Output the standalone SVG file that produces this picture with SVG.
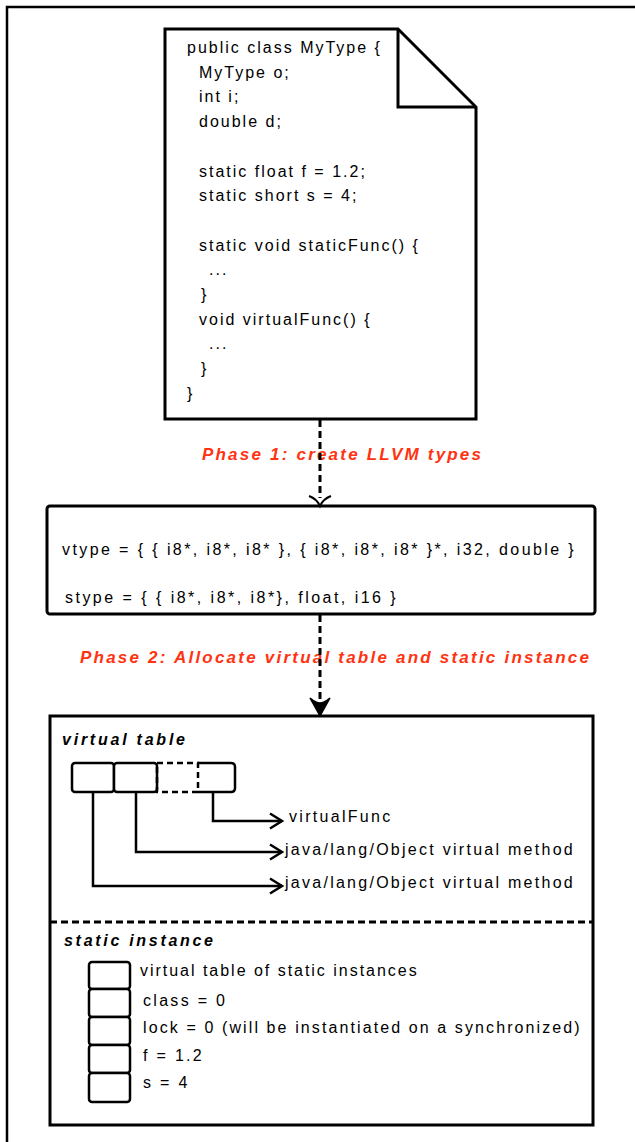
<svg xmlns="http://www.w3.org/2000/svg" width="635" height="1142" viewBox="0 0 635 1142">
<style>
.code{font-family:"Liberation Sans",Arial,sans-serif;font-size:16px;letter-spacing:2px;fill:#000}
.lbl{font-family:"Liberation Sans",Arial,sans-serif;font-size:16px;letter-spacing:2.3px;fill:#000}
.phase{font-family:"Liberation Sans",Arial,sans-serif;font-size:17px;font-weight:bold;font-style:italic;fill:#ff3311}
.title{font-family:"Liberation Sans",Arial,sans-serif;font-size:16px;font-weight:bold;font-style:italic;fill:#000}
.box{fill:#fff;stroke:#000;stroke-width:3}
.cell{fill:#fff;stroke:#000;stroke-width:2.5}
.dash{fill:none;stroke:#000;stroke-width:3;stroke-dasharray:7 4}
.line{fill:none;stroke:#000;stroke-width:2.5}
</style>
<defs>
<marker id="open" markerWidth="18" markerHeight="20" refX="14" refY="9" orient="auto" markerUnits="userSpaceOnUse">
<path d="M2,1.5 L14,9 L2,16.5" fill="none" stroke="#000" stroke-width="2.5"/>
</marker>
</defs>
<rect id="frame" x="7" y="7" width="700" height="1200" fill="none" stroke="#000" stroke-width="2.5"/>
<g id="source">
<path d="M165,29 H398 L476,107 V419 H165 Z" class="box"/>
<path d="M398,29 V107 H476" fill="none" stroke="#000" stroke-width="3"/>
<text class="code" x="187" y="53">public class MyType {</text>
<text class="code" x="199" y="77.7">MyType o;</text>
<text class="code" x="199" y="102.4">int i;</text>
<text class="code" x="199" y="127.1">double d;</text>
<text class="code" x="199" y="176.5">static float f = 1.2;</text>
<text class="code" x="199" y="201.2">static short s = 4;</text>
<text class="code" x="199" y="250.6">static void staticFunc() {</text>
<text class="code" x="209" y="275.3">...</text>
<text class="code" x="201" y="300">}</text>
<text class="code" x="199" y="324.7">void virtualFunc() {</text>
<text class="code" x="209" y="349.4">...</text>
<text class="code" x="201" y="374.1">}</text>
<text class="code" x="187" y="398.8">}</text>
</g>
<text id="phase1" class="phase" x="202" y="460" textLength="279" lengthAdjust="spacing">Phase 1: create LLVM types</text>
<g id="types">
<rect x="47" y="506" width="548" height="108" rx="3" class="box"/>
<text class="lbl" x="62" y="555" textLength="514" lengthAdjust="spacing">vtype = { { i8*, i8*, i8* }, { i8*, i8*, i8* }*, i32, double }</text>
<text class="lbl" x="65" y="603" textLength="333" lengthAdjust="spacing">stype = { { i8*, i8*, i8*}, float, i16 }</text>
</g>
<text id="phase2" class="phase" x="80" y="663" textLength="509" lengthAdjust="spacing">Phase 2: Allocate virtual table and static instance</text>
<g id="memory">
<rect x="50" y="716" width="543" height="409" fill="none" stroke="#000" stroke-width="3"/>
<line x1="50" y1="922" x2="593" y2="922" class="dash"/>
<text class="title" x="62" y="745" textLength="123" lengthAdjust="spacing">virtual table</text>
<text class="title" x="64" y="946" textLength="149" lengthAdjust="spacing">static instance</text>
</g>
<g id="vtable">
<rect x="72" y="763" width="42" height="29" rx="3" class="cell"/>
<rect x="114" y="763" width="43" height="29" rx="3" class="cell"/>
<rect x="157" y="763" width="41" height="29" fill="none" stroke="#000" stroke-width="2.5" stroke-dasharray="6 4"/>
<path d="M198,763 H231 Q235,763 235,767 V788 Q235,792 231,792 H198" class="line"/>
</g>
<g id="vtable-labels">
<text class="lbl" x="289" y="822">virtualFunc</text>
<text class="lbl" x="285" y="855" textLength="290" lengthAdjust="spacing">java/lang/Object virtual method</text>
<text class="lbl" x="285" y="888" textLength="290" lengthAdjust="spacing">java/lang/Object virtual method</text>
</g>
<g id="static">
<rect x="89" y="962" width="41" height="27" rx="3" class="cell"/>
<rect x="89" y="989" width="41" height="28" rx="3" class="cell"/>
<rect x="89" y="1017" width="41" height="28" rx="3" class="cell"/>
<rect x="89" y="1045" width="41" height="28" rx="3" class="cell"/>
<rect x="89" y="1073" width="41" height="29" rx="3" class="cell"/>
<text class="lbl" x="140" y="976" textLength="279" lengthAdjust="spacing">virtual table of static instances</text>
<text class="lbl" x="143" y="1006">class = 0</text>
<text class="lbl" x="143" y="1033" textLength="439" lengthAdjust="spacing">lock = 0 (will be instantiated on a synchronized)</text>
<text class="lbl" x="143" y="1061">f = 1.2</text>
<text class="lbl" x="143" y="1088">s = 4</text>
</g>
<g id="connectors">
<line x1="320" y1="420" x2="320" y2="498" class="dash"/>
<path d="M309,496 Q317,499 320,506 Q323,499 331,496" fill="none" stroke="#000" stroke-width="2"/>
<line x1="320" y1="615" x2="320" y2="702" class="dash"/>
<path d="M320,716 L310,698 Q316,703 320,703 Q324,703 330,698 Z" fill="#000" stroke="#000" stroke-width="1.5"/>
<path d="M213,792 V821 H282" class="line" marker-end="url(#open)"/>
<path d="M136,792 V852 H282" class="line" marker-end="url(#open)"/>
<path d="M93,792 V886 H282" class="line" marker-end="url(#open)"/>
</g>
</svg>
